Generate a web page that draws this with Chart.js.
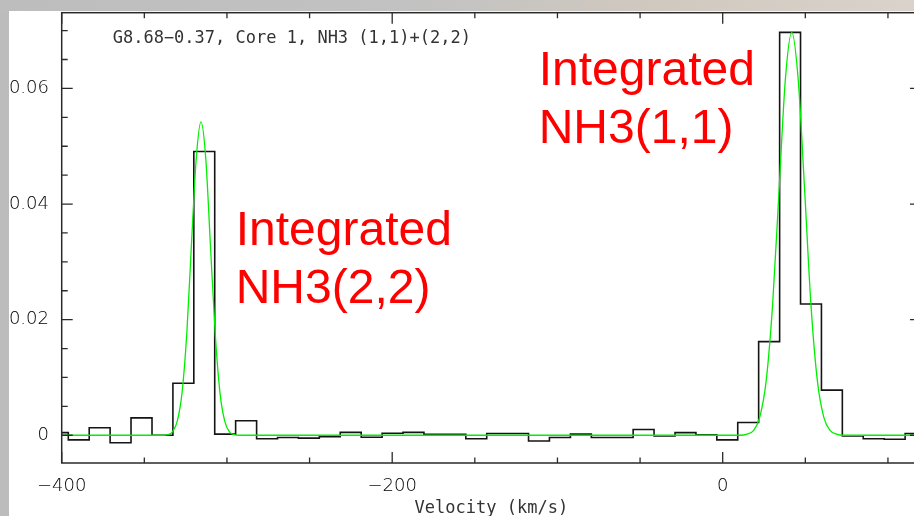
<!DOCTYPE html>
<html><head><meta charset="utf-8">
<script src="https://cdn.jsdelivr.net/npm/chart.js@4/dist/chart.umd.min.js"></script>
<style>
html,body{margin:0;padding:0;overflow:hidden;width:914px;height:516px;background:#bcbcbc;}
#topband{position:absolute;left:0;top:0;width:914px;height:11px;background:linear-gradient(90deg,#bdbdbd 0%,#c2c2c2 45%,#cfc8bf 70%,#d9d3cb 100%);}
#wrap{position:absolute;left:9px;top:11px;width:925px;height:505px;background:#fff;}
canvas{display:block;}
</style></head><body>
<div id="topband"></div>
<div id="wrap"><canvas id="c" width="925" height="505"></canvas></div>
<script>
// ---- data ----
const velocity = [-402.3, -389.7, -377.0, -364.4, -351.7, -339.0, -326.4, -313.7, -301.1, -288.4, -275.7, -263.1, -250.4, -237.8, -225.1, -212.4, -199.8, -187.1, -174.5, -161.8, -149.1, -136.5, -123.8, -111.2, -98.5, -85.8, -73.2, -60.5, -47.9, -35.2, -22.5, -9.9, 2.8, 15.4, 28.1, 40.8, 53.4, 66.1, 78.7, 91.4, 104.1, 116.7];
const intensity = [0.00045, -0.0008, 0.0013, -0.0013, 0.0030, 0.0000, 0.0090, 0.0491, 0.0002, 0.0025, -0.0006, -0.0004, -0.0005, -0.00025, 0.0005, -0.00035, 0.00035, 0.0005, 0.00017, 0.00017, -0.0006, 0.0003, 0.0003, -0.0010, -0.0004, 0.0002, -0.0004, -0.0004, 0.0010, -0.0001, 0.00045, 0.0001, -0.0008, 0.0022, 0.0162, 0.0697, 0.0227, 0.0078, -0.0001, -0.0006, -0.0007, 0.0003];
const fitVelocity = [-400, -338.7, -335.8, -333.0, -330.1, -327.2, -324.3, -321.5, -318.6, -315.7, -312.8, -310.0, -307.1, -304.2, -301.3, -298.5, -295.6, -292.7, 10.8, 14.7, 18.6, 22.4, 26.3, 30.2, 34.1, 37.9, 41.8, 45.7, 49.6, 53.4, 57.3, 61.2, 65.1, 68.9, 72.8, 120];
const fitIntensity = [0, 0, 0.0001, 0.0006, 0.0024, 0.0073, 0.0176, 0.0329, 0.0478, 0.0542, 0.0478, 0.0329, 0.0176, 0.0073, 0.0024, 0.0006, 0.0001, 0, 0, 0.0002, 0.0008, 0.0031, 0.0094, 0.0226, 0.0423, 0.0615, 0.0697, 0.0615, 0.0423, 0.0226, 0.0094, 0.0031, 0.0008, 0.0002, 0, 0];
const xMajorTicks = [-400, -200, 0];
const yMajorTicks = [0, 0.02, 0.04, 0.06];
const plotTitle = 'G8.68\u22120.37, Core 1, NH3 (1,1)+(2,2)';
const xAxisTitle = 'Velocity (km/s)';
const label22 = ['Integrated', 'NH3(2,2)'];
const label11 = ['Integrated', 'NH3(1,1)'];

// ---- chart ----
const isIn = (v, arr) => arr.some(m => Math.abs(v - m) < 1e-9);
const tickFont = {family: '"DejaVu Sans", sans-serif', size: 18, weight: 300};
const textColor = '#000';

const histPoints = velocity.map((v, i) => ({x: v, y: intensity[i]}));
const fitPoints = fitVelocity.map((v, i) => ({x: v, y: fitIntensity[i]}));

const framePlugin = {
  id: 'frame',
  afterDraw(chart) {
    const {ctx, chartArea: a, scales: {x, y}} = chart;
    ctx.save();
    ctx.strokeStyle = '#2a2a2a';
    ctx.lineWidth = 1.5;
    ctx.strokeRect(a.left, a.top, a.right - a.left, a.bottom - a.top);
    ctx.lineWidth = 1.3;
    ctx.beginPath();
    x.ticks.forEach(t => {
      const px = x.getPixelForValue(t.value);
      const L = isIn(t.value, xMajorTicks) ? 11 : 5.5;
      ctx.moveTo(px, a.bottom); ctx.lineTo(px, a.bottom - L);
      ctx.moveTo(px, a.top); ctx.lineTo(px, a.top + L);
    });
    y.ticks.forEach(t => {
      const py = y.getPixelForValue(t.value);
      const L = isIn(t.value, yMajorTicks) ? 11 : 6;
      ctx.moveTo(a.left, py); ctx.lineTo(a.left + L, py);
      ctx.moveTo(a.right, py); ctx.lineTo(a.right - L, py);
    });
    ctx.stroke();
    // plot title inside frame
    ctx.fillStyle = '#333';
    ctx.font = '17px "DejaVu Sans Mono", monospace';
    ctx.textBaseline = 'alphabetic';
    ctx.textAlign = 'left';
    ctx.fillText(plotTitle, a.left + 51, a.top + 30.6);
    // red annotations
    ctx.fillStyle = '#ff0000';
    ctx.font = '48px "Liberation Sans", Arial, sans-serif';
    ctx.fillText(label22[0], a.left + 174, a.top + 232.3);
    ctx.fillText(label22[1], a.left + 174, a.top + 290.6);
    ctx.fillText(label11[0], a.left + 477, a.top + 72.3);
    ctx.fillText(label11[1], a.left + 477, a.top + 130.6);
    ctx.restore();
  }
};

new Chart(document.getElementById('c'), {
  type: 'line',
  data: {
    datasets: [
      {data: fitPoints, borderColor: '#00ee00', borderWidth: 1.3, pointRadius: 0, cubicInterpolationMode: 'monotone', fill: false},
      {data: histPoints, stepped: 'middle', borderColor: '#141414', borderWidth: 1.6, pointRadius: 0, fill: false}
    ]
  },
  options: {
    responsive: false,
    animation: false,
    events: [],
    layout: {padding: {left: 0, right: 13, top: 1.7, bottom: 0}},
    plugins: {legend: {display: false}, tooltip: {enabled: false}},
    scales: {
      x: {
        type: 'linear', min: -400, max: 120,
        grid: {display: false, drawTicks: false},
        border: {display: false},
        ticks: {
          stepSize: 50, autoSkip: false, maxRotation: 0, includeBounds: false,
          padding: 13, color: textColor, font: tickFont,
          callback: v => isIn(v, xMajorTicks) ? (v < 0 ? '\u2212' + Math.abs(v) : String(v)) : ''
        },
        title: {display: true, text: xAxisTitle, color: '#333',
          font: {family: '"DejaVu Sans Mono", monospace', size: 17, lineHeight: 0.85},
          padding: {top: 0, bottom: 0}},
        afterFit(s) { s.height = 53; s.paddingLeft = 0; s.paddingRight = 0; }
      },
      y: {
        type: 'linear', min: -0.0048, max: 0.0731,
        grid: {display: false, drawTicks: false},
        border: {display: false},
        ticks: {
          stepSize: 0.005, autoSkip: false, includeBounds: false,
          padding: 12.7, color: textColor, font: tickFont,
          callback: v => isIn(v, yMajorTicks) ? String(Math.round(v * 100) / 100) : ''
        },
        afterFit(s) { s.width = 52.7; s.paddingTop = 0; s.paddingBottom = 0; }
      }
    }
  },
  plugins: [framePlugin]
});
</script>
</body></html>
